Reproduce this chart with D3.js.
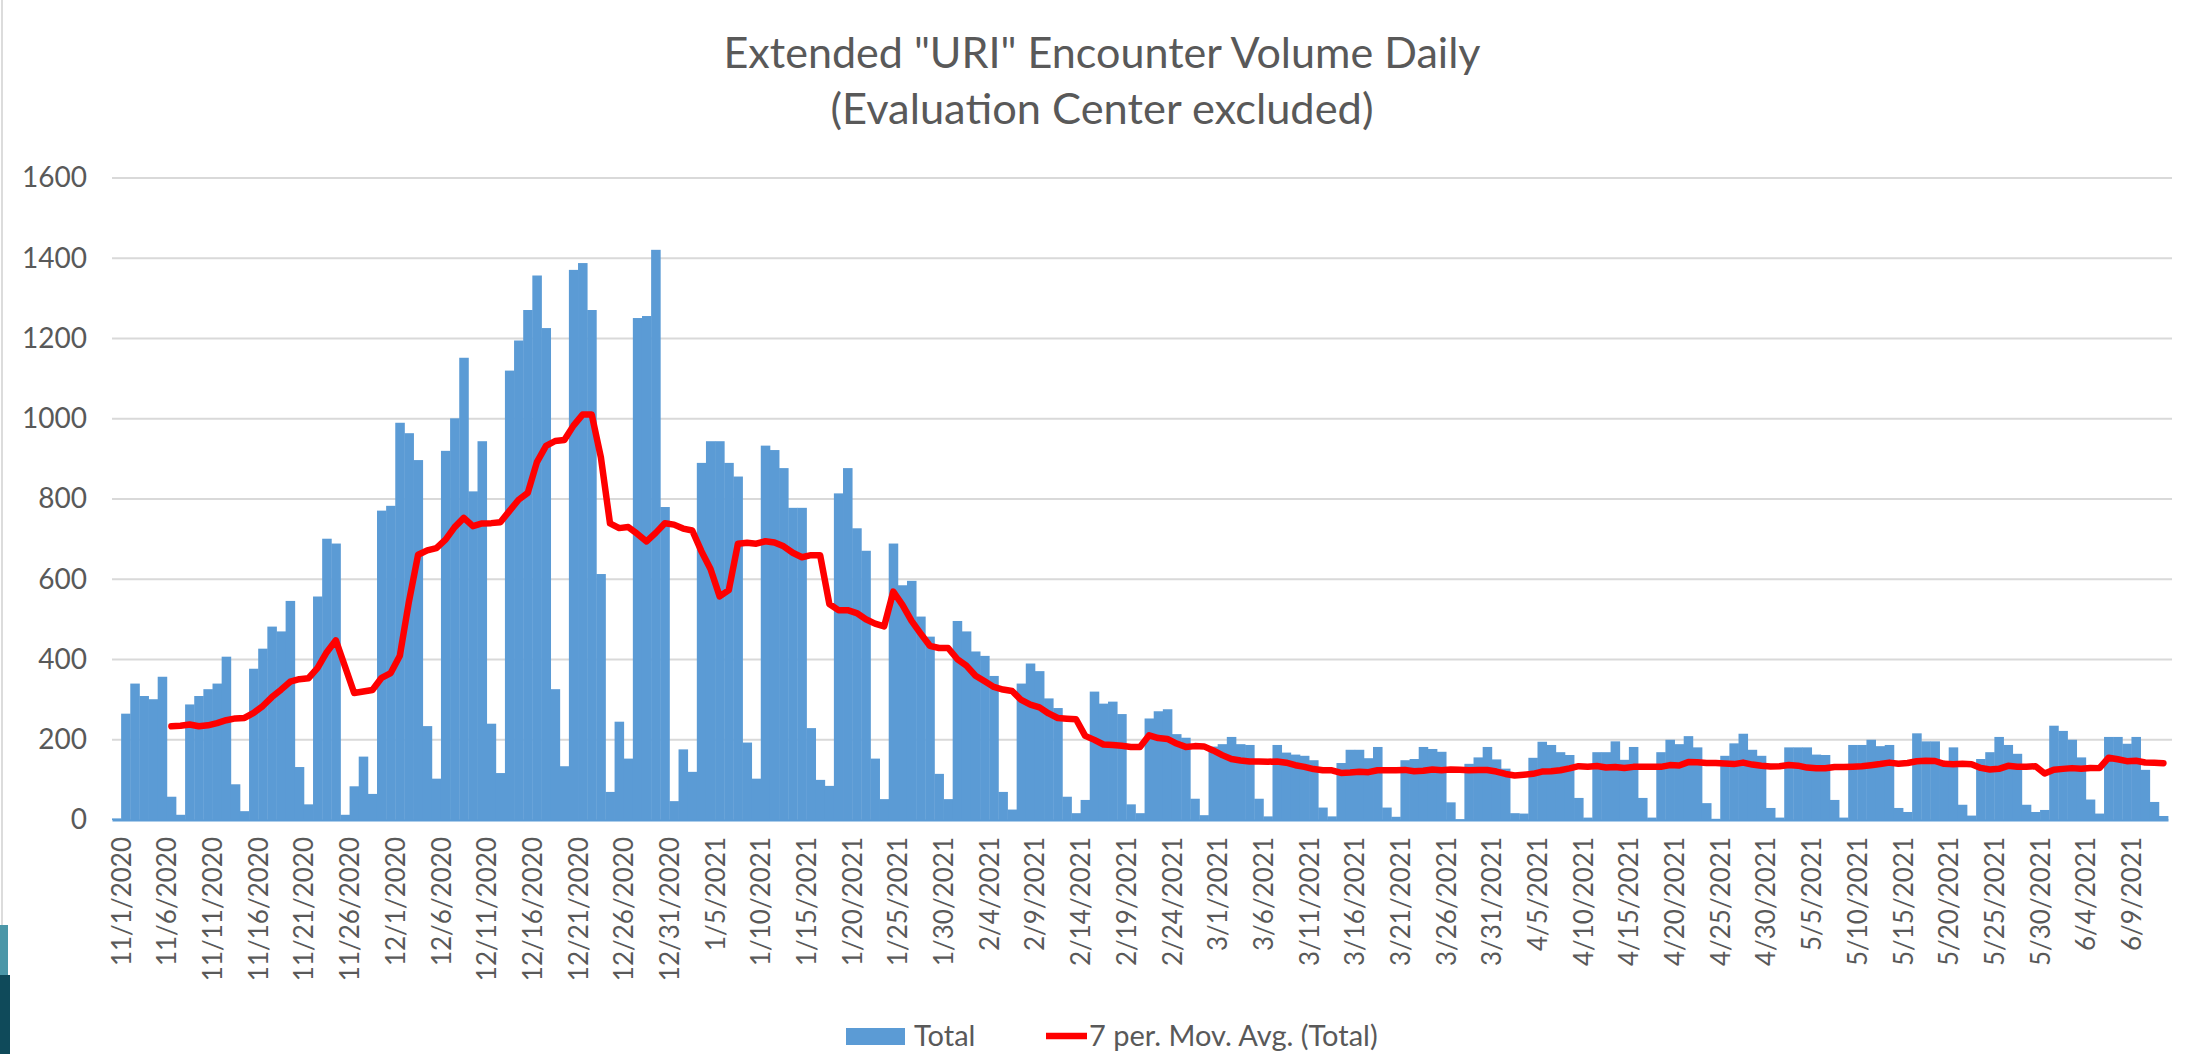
<!DOCTYPE html>
<html>
<head>
<meta charset="utf-8">
<script src="https://cdn.jsdelivr.net/npm/d3@7.9.0/dist/d3.min.js"></script>
<style>
  html, body { margin: 0; padding: 0; background: #fff; }
  svg { display: block; font-family: Lato, "Open Sans", sans-serif; }
</style>
</head>
<body>
<svg id="chart" width="2199" height="1054"></svg>
<script>
// daily totals, 11/1/2020 .. 6/13/2021
const firstDay = new Date(2020, 10, 1);
const lastDay = new Date(2021, 5, 13);

const totals = [
  4, 265, 340, 309, 301, 357, 58,
  13, 288, 309, 326, 340, 407, 89,
  22, 377, 427, 482, 470, 546, 132,
  39, 557, 701, 689, 13, 84, 158,
  65, 771, 783, 990, 964, 897, 234,
  103, 920, 1001, 1152, 819, 944, 240,
  117, 1120, 1195, 1271, 1357, 1226, 326,
  134, 1371, 1388, 1271, 613, 70, 245,
  153, 1251, 1256, 1421, 780, 47, 176,
  120, 890, 944, 944, 890, 856, 193,
  103, 933, 922, 877, 778, 778, 229,
  100, 85, 814, 877, 727, 671, 153,
  52, 689, 585, 596, 507, 457, 115,
  52, 496, 470, 420, 409, 359, 70,
  26, 340, 390, 371, 303, 279, 58,
  17, 50, 320, 290, 295, 264, 39,
  17, 253, 271, 276, 214, 205, 53,
  12, 183, 189, 207, 189, 187, 53,
  9, 187, 168, 163, 160, 149, 31,
  9, 142, 175, 175, 154, 182, 31,
  8, 149, 152, 182, 177, 170, 44,
  2, 140, 156, 182, 151, 128, 17,
  16, 155, 195, 187, 169, 162, 55,
  6, 169, 169, 196, 150, 182, 55,
  6, 169, 200, 189, 209, 181, 42,
  3, 160, 191, 215, 175, 160, 30,
  6, 181, 181, 181, 163, 162, 50,
  6, 187, 187, 200, 184, 187, 30,
  20, 216, 196, 196, 135, 181, 38,
  11, 152, 169, 207, 187, 165, 38,
  20, 25, 235, 222, 200, 156, 51,
  16, 207, 207, 190, 207, 125, 45,
  10
];

const xTickLabels = [
  '11/1/2020', '11/6/2020', '11/11/2020', '11/16/2020', '11/21/2020', '11/26/2020',
  '12/1/2020', '12/6/2020', '12/11/2020', '12/16/2020', '12/21/2020', '12/26/2020',
  '12/31/2020', '1/5/2021', '1/10/2021', '1/15/2021', '1/20/2021', '1/25/2021',
  '1/30/2021', '2/4/2021', '2/9/2021', '2/14/2021', '2/19/2021', '2/24/2021',
  '3/1/2021', '3/6/2021', '3/11/2021', '3/16/2021', '3/21/2021', '3/26/2021',
  '3/31/2021', '4/5/2021', '4/10/2021', '4/15/2021', '4/20/2021', '4/25/2021',
  '4/30/2021', '5/5/2021', '5/10/2021', '5/15/2021', '5/20/2021', '5/25/2021',
  '5/30/2021', '6/4/2021', '6/9/2021'
];
const yTicks = [0, 200, 400, 600, 800, 1000, 1200, 1400, 1600];

const titleLines = ['Extended "URI" Encounter Volume Daily', '(Evaluation Center excluded)'];
const legendLabels = ['Total', '7 per. Mov. Avg. (Total)'];
const maPeriod = 7;

const barColor = '#5b9bd5';
const lineColor = '#ff0000';
const textColor = '#595959';

const fmt = d3.timeFormat('%-m/%-d/%Y');
const days = d3.timeDay.range(firstDay, d3.timeDay.offset(lastDay, 1)).map(fmt);
const rows = days.map((d, i) => ({ day: d, total: totals[i] }));

// Excel's moving-average trendline over Total
const avgRows = rows.slice(maPeriod - 1).map((r, k) => ({
  day: r.day,
  avg: d3.mean(totals.slice(k, k + maPeriod))
}));

const svg = d3.select('#chart');

const x = d3.scaleBand().domain(days).range([112, 2168]).padding(0);
const y = d3.scaleLinear().domain([0, 1600]).range([820, 178]);

// slide edge decoration
svg.append('line')
  .attr('x1', 2).attr('x2', 2).attr('y1', 0).attr('y2', 925)
  .attr('stroke', '#d0d0d0').attr('stroke-width', 1.5);
svg.append('rect').attr('x', 0).attr('y', 925).attr('width', 8).attr('height', 50).attr('fill', '#4b97a8');
svg.append('rect').attr('x', 0).attr('y', 975).attr('width', 10).attr('height', 79).attr('fill', '#0f4a5a');

// title
svg.append('g').selectAll('text')
  .data(titleLines)
  .join('text')
  .attr('x', 1102)
  .attr('y', (d, i) => 53 + i * 56)
  .attr('dy', '0.35em')
  .attr('text-anchor', 'middle')
  .attr('fill', textColor)
  .attr('font-size', 42)
  .attr('textLength', (d, i) => i === 0 ? 757 : 543)
  .attr('lengthAdjust', 'spacingAndGlyphs')
  .text(d => d);

// gridlines
svg.append('g').selectAll('line')
  .data(yTicks.slice(1))
  .join('line')
  .attr('x1', 112).attr('x2', 2172)
  .attr('y1', d => y(d)).attr('y2', d => y(d))
  .attr('stroke', '#d9d9d9').attr('stroke-width', 2);

// y axis labels
const yAxis = svg.append('g')
  .attr('transform', 'translate(112,0)')
  .call(d3.axisLeft(y).tickValues(yTicks).tickFormat(d3.format('d')).tickSize(0).tickPadding(25));
yAxis.select('.domain').remove();
yAxis.selectAll('text')
  .attr('fill', textColor)
  .attr('font-size', 28)
  .attr('font-family', 'Lato, "Open Sans", sans-serif');

// bars
svg.append('g').selectAll('rect')
  .data(rows)
  .join('rect')
  .attr('x', d => x(d.day))
  .attr('width', x.bandwidth() + 0.4)
  .attr('y', d => y(d.total))
  .attr('height', d => y(0) - y(d.total))
  .attr('fill', barColor);

// x axis
const xAxis = svg.append('g')
  .attr('transform', `translate(0,${y(0)})`)
  .call(d3.axisBottom(x).tickValues(xTickLabels).tickSize(0));
xAxis.select('.domain')
  .attr('stroke', barColor).attr('stroke-width', 2);
xAxis.selectAll('text')
  .attr('transform', 'rotate(-90)')
  .attr('text-anchor', 'end')
  .attr('x', -17)
  .attr('y', 5)
  .attr('dy', '0.35em')
  .attr('fill', textColor)
  .attr('font-size', 26)
  .attr('font-family', 'Lato, "Open Sans", sans-serif');

// moving average
const line = d3.line()
  .x(d => x(d.day) + x.bandwidth() / 2)
  .y(d => y(d.avg));
svg.append('path')
  .datum(avgRows)
  .attr('d', line)
  .attr('fill', 'none')
  .attr('stroke', lineColor)
  .attr('stroke-width', 6.5)
  .attr('stroke-linejoin', 'round')
  .attr('stroke-linecap', 'round');

// legend
const legend = svg.append('g').attr('font-size', 29).attr('fill', textColor);
legend.append('rect')
  .attr('x', 846).attr('y', 1028).attr('width', 59).attr('height', 17)
  .attr('fill', barColor);
legend.append('text')
  .attr('x', 914).attr('y', 1036).attr('dy', '0.35em')
  .text(legendLabels[0]);
legend.append('line')
  .attr('x1', 1046).attr('x2', 1087).attr('y1', 1036).attr('y2', 1036)
  .attr('stroke', lineColor).attr('stroke-width', 6.5);
legend.append('text')
  .attr('x', 1089).attr('y', 1036).attr('dy', '0.35em')
  .text(legendLabels[1]);
</script>
</body>
</html>
